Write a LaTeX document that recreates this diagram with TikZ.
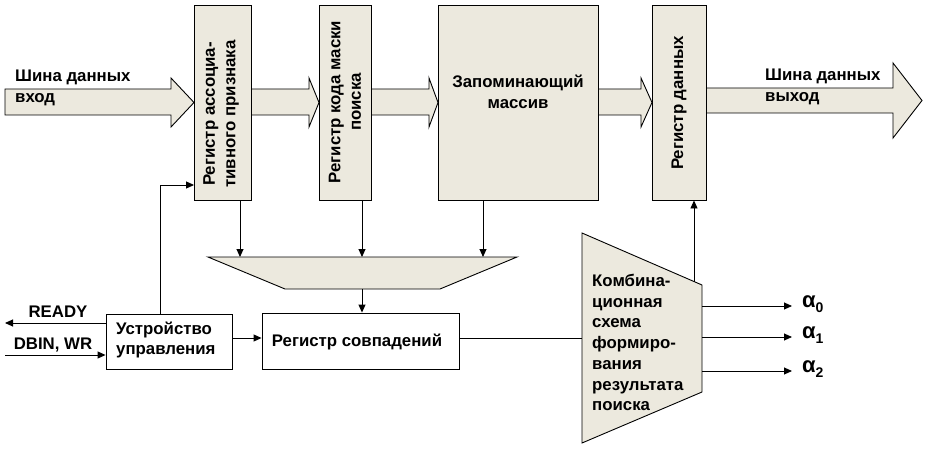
\documentclass[tikz,border=0pt]{standalone}
\usepackage{fontspec}
\setmainfont{Liberation Sans}
\usetikzlibrary{arrows.meta}
\definecolor{beige}{RGB}{236,233,222}
\tikzset{
  ln/.style={line width=0.9pt, black},
  arr/.style={ln, -{Triangle[length=8pt,width=7pt]}},
  fillbox/.style={draw, line width=0.9pt, fill=beige, inner sep=0pt},
  plainbox/.style={draw, line width=0.9pt, fill=white, inner sep=0pt},
  txt/.style={font=\fontsize{16.8}{20.5}\selectfont\bfseries, inner sep=0pt},
  rtxt/.style={txt, rotate=90, align=center},
  alph/.style={font=\fontsize{22}{24}\selectfont\bfseries, inner sep=0pt, anchor=west},
  blockarrow/.style={draw, line width=0.9pt, fill=beige, line join=miter}
}
\newcommand{\alsub}[1]{α\raisebox{-5pt}{\fontsize{14}{14}\selectfont #1}}
\begin{document}
\begin{tikzpicture}[x=1pt,y=-1pt]
\useasboundingbox (0,0) rectangle (925,449);
% block arrows
\path[blockarrow] (5,89) -- (171,89) -- (171,78) -- (194,102.5) -- (171,127) -- (171,115) -- (5,115) -- cycle;
\path[blockarrow] (251,89) -- (309,89) -- (309,78) -- (319,102.5) -- (309,127) -- (309,115) -- (251,115) -- cycle;
\path[blockarrow] (371,89) -- (429,89) -- (429,78) -- (438,102.5) -- (429,127) -- (429,115) -- (371,115) -- cycle;
\path[blockarrow] (598,89) -- (641,89) -- (641,78) -- (652,102.5) -- (641,127) -- (641,115) -- (598,115) -- cycle;
\path[blockarrow] (706,88) -- (893,88) -- (893,63) -- (922,100.5) -- (893,138) -- (893,113) -- (706,113) -- cycle;
% boxes
\node[fillbox, minimum width=57pt, minimum height=195pt] (reg1) at (223,102.5) {};
\node[rtxt] (reg1t) at (221,114) {Регистр ассоциа-\\тивного признака};
\node[fillbox, minimum width=52pt, minimum height=195pt] (reg2) at (345,102.5) {};
\node[rtxt] (reg2t) at (345,102) {Регистр кода маски\\поиска};
\node[fillbox, minimum width=160pt, minimum height=195pt] (mem) at (518,102.5) {};
\node[txt, align=center] (memt) at (518,92) {Запоминающий\\массив};
\node[fillbox, minimum width=54pt, minimum height=195pt] (regd) at (679,102.5) {};
\node[rtxt] (regdt) at (679,103) {Регистр данных};
% bus labels
\node[txt, align=left, anchor=west] (inlbl) at (15,88) {Шина данных\\вход};
\node[txt, align=left, anchor=west] (outlbl) at (765,87) {Шина данных\\выход};
% trapezoid comparator
\path[fillbox] (208,257) -- (517,257) -- (440,289) -- (285,289) -- cycle;
\coordinate (trtop1) at (240,257);
\coordinate (trtop2) at (362,257);
\coordinate (trtop3) at (483,257);
\coordinate (trbot) at (362,289);
% lower boxes
\node[plainbox, minimum width=126pt, minimum height=55pt] (uu) at (169,341.5) {};
\node[txt, align=left, anchor=west] (uut) at (116,340) {Устройство\\управления};
\node[plainbox, minimum width=197pt, minimum height=56pt] (rs) at (360.5,341) {};
\node[txt] (rst) at (357,342) {Регистр совпадений};
% combinational scheme
\path[fillbox] (582,233) -- (702,285) -- (702,392) -- (582,443) -- cycle;
\coordinate (combL) at (582,338);
\coordinate (combTop) at (694,281.5);
\node[txt, align=left, anchor=north west, font=\fontsize{16.8}{20.7}\selectfont\bfseries] (combt) at (592,274) {Комбина-\\ционная\\схема\\формиро-\\вания\\результата\\поиска};
% connectors
\draw[arr] (reg1.south -| trtop1) -- (trtop1);
\draw[arr] (reg2.south -| trtop2) -- (trtop2);
\draw[arr] (mem.south -| trtop3) -- (trtop3);
\draw[arr] (trbot) -- (rs.north -| trbot);
\coordinate (fbk) at (160,185);
\draw[arr] (uu.north -| fbk) -- (fbk) -- (reg1.west |- fbk);
\coordinate (readyend) at (5,323);
\coordinate (dbinstart) at (5,355);
\draw[arr] (uu.west |- readyend) -- (readyend);
\draw[arr] (dbinstart) -- (uu.west |- dbinstart);
\node[txt] (readyt) at (58,312) {READY};
\node[txt] (dbint) at (53,345) {DBIN, WR};
\draw[arr] (uu.east |- 0,338) -- (rs.west |- 0,338);
\draw[ln] (rs.east |- combL) -- (combL);
\draw[arr] (combTop) -- (regd.south -| combTop);
\coordinate (a0) at (792,306);
\coordinate (a1) at (792,337);
\coordinate (a2) at (792,371);
\draw[arr] (702,306) -- (a0);
\draw[arr] (702,337) -- (a1);
\draw[arr] (702,371) -- (a2);
\node[alph] (a0t) at (802,304) {\alsub{0}};
\node[alph] (a1t) at (802,335) {\alsub{1}};
\node[alph] (a2t) at (802,369) {\alsub{2}};
\end{tikzpicture}
\end{document}
